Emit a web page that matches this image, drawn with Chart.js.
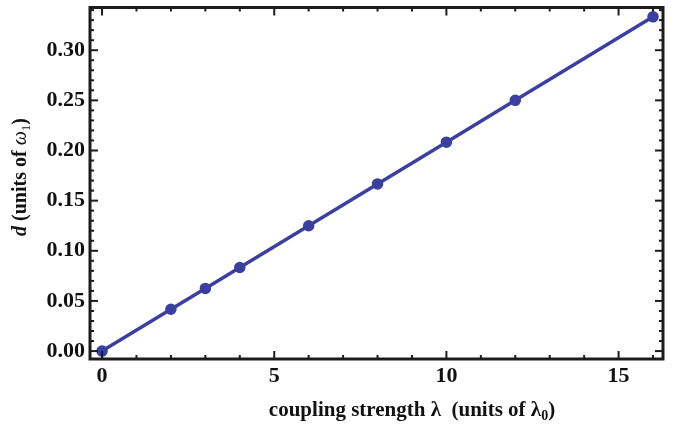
<!DOCTYPE html>
<html>
<head>
<meta charset="utf-8">
<script src="https://cdn.jsdelivr.net/npm/chart.js@4.4.1/dist/chart.umd.min.js"></script>
<style>
  html, body { margin: 0; padding: 0; background: #fff; }
  #wrap { width: 677px; height: 427px; }
</style>
</head>
<body>
<div id="wrap"><canvas id="chart"></canvas></div>
<script>
// data
const couplingX = [0, 2, 3, 4, 6, 8, 10, 12, 16];
const splittingD = [0, 0.0417, 0.0625, 0.0833, 0.125, 0.1667, 0.2083, 0.25, 0.3333];
const xTickValues = [0, 5, 10, 15];
const yTickValues = [0, 0.05, 0.10, 0.15, 0.20, 0.25, 0.30];

const lineColor = '#3b3f9e';
const frameColor = '#1c1c1c';
const serif = "'Liberation Serif', 'Times New Roman', serif";

const line = (ctx, x1, y1, x2, y2) => {
    ctx.beginPath();
    ctx.moveTo(x1, y1);
    ctx.lineTo(x2, y2);
    ctx.stroke();
};

// mathematica style frame with ticks pointing inwards
const framePlugin = {
    id: 'frame',
    afterDatasetsDraw(chart) {
        const { ctx, chartArea: a, scales: { x, y } } = chart;
        ctx.save();
        ctx.strokeStyle = frameColor;
        ctx.lineWidth = 2;
        for (let v = Math.ceil(x.min); v <= x.max; v += 1) {
            const px = x.getPixelForValue(v);
            const len = xTickValues.includes(v) ? 8 : 4;
            line(ctx, px, a.bottom, px, a.bottom - len);
            line(ctx, px, a.top, px, a.top + len);
        }
        for (let i = Math.ceil(y.min * 100); i <= Math.floor(y.max * 100); i++) {
            const py = y.getPixelForValue(i / 100);
            const len = i % 5 === 0 ? 8 : 4;
            line(ctx, a.left, py, a.left + len, py);
            line(ctx, a.right, py, a.right - len, py);
        }
        ctx.lineWidth = 3;
        ctx.strokeRect(a.left, a.top, a.right - a.left, a.bottom - a.top);
        ctx.restore();
    }
};

// axis titles with italics and subscripts
const drawRich = (ctx, parts, cx, cy, angle) => {
    ctx.save();
    ctx.translate(cx, cy);
    ctx.rotate(angle);
    ctx.textBaseline = 'alphabetic';
    ctx.fillStyle = '#111';
    let total = 0;
    parts.forEach(p => { ctx.font = p.font; p.w = ctx.measureText(p.text).width; total += p.w; });
    let px = -total / 2;
    parts.forEach(p => {
        ctx.font = p.font;
        ctx.fillText(p.text, px, 7 + (p.dy || 0));
        px += p.w;
    });
    ctx.restore();
};

const titlePlugin = {
    id: 'titles',
    afterDraw(chart) {
        const ctx = chart.ctx;
        const b = `bold 21px ${serif}`;
        drawRich(ctx, [
            { text: 'coupling strength \u03bb  (units of \u03bb', font: b },
            { text: '0', font: `bold 14px ${serif}`, dy: 4 },
            { text: ')', font: b }
        ], 412, 409, 0);
        const b2 = `bold 20px ${serif}`;
        drawRich(ctx, [
            { text: 'd', font: `italic bold 20px ${serif}` },
            { text: ' (units of ', font: b2 },
            { text: '\u03c9', font: `italic 20px ${serif}` },
            { text: '1', font: `13px ${serif}`, dy: 4 },
            { text: ')', font: b2 }
        ], 19, 177, -Math.PI / 2);
    }
};

const tickFont = { family: serif, size: 22, weight: 'bold' };

new Chart(document.getElementById('chart'), {
    type: 'line',
    data: {
        datasets: [{
            data: couplingX.map((v, i) => ({ x: v, y: splittingD[i] })),
            borderColor: lineColor,
            backgroundColor: lineColor,
            borderWidth: 3.5,
            pointRadius: 4,
            pointHoverRadius: 4,
            tension: 0
        }]
    },
    options: {
        responsive: true,
        maintainAspectRatio: false,
        animation: false,
        layout: { padding: { top: 5, right: 14, left: 0, bottom: 0 } },
        plugins: { legend: { display: false }, tooltip: { enabled: false } },
        scales: {
            x: {
                type: 'linear',
                min: -0.35,
                max: 16.29,
                grid: { display: false, drawTicks: false },
                border: { display: false },
                afterBuildTicks: s => { s.ticks = xTickValues.map(v => ({ value: v })); },
                afterFit: s => { s.height = 68; s.paddingLeft = 0; s.paddingRight = 0; },
                ticks: { font: tickFont, color: '#111', padding: 4, maxRotation: 0 }
            },
            y: {
                type: 'linear',
                min: -0.0079,
                max: 0.3426,
                grid: { display: false, drawTicks: false },
                border: { display: false },
                afterBuildTicks: s => { s.ticks = yTickValues.map(v => ({ value: v })); },
                afterFit: s => { s.width = 90; s.paddingTop = 0; s.paddingBottom = 0; },
                ticks: { font: tickFont, color: '#111', padding: 5, callback: v => Number(v).toFixed(2) }
            }
        }
    },
    plugins: [framePlugin, titlePlugin]
});
</script>
</body>
</html>
